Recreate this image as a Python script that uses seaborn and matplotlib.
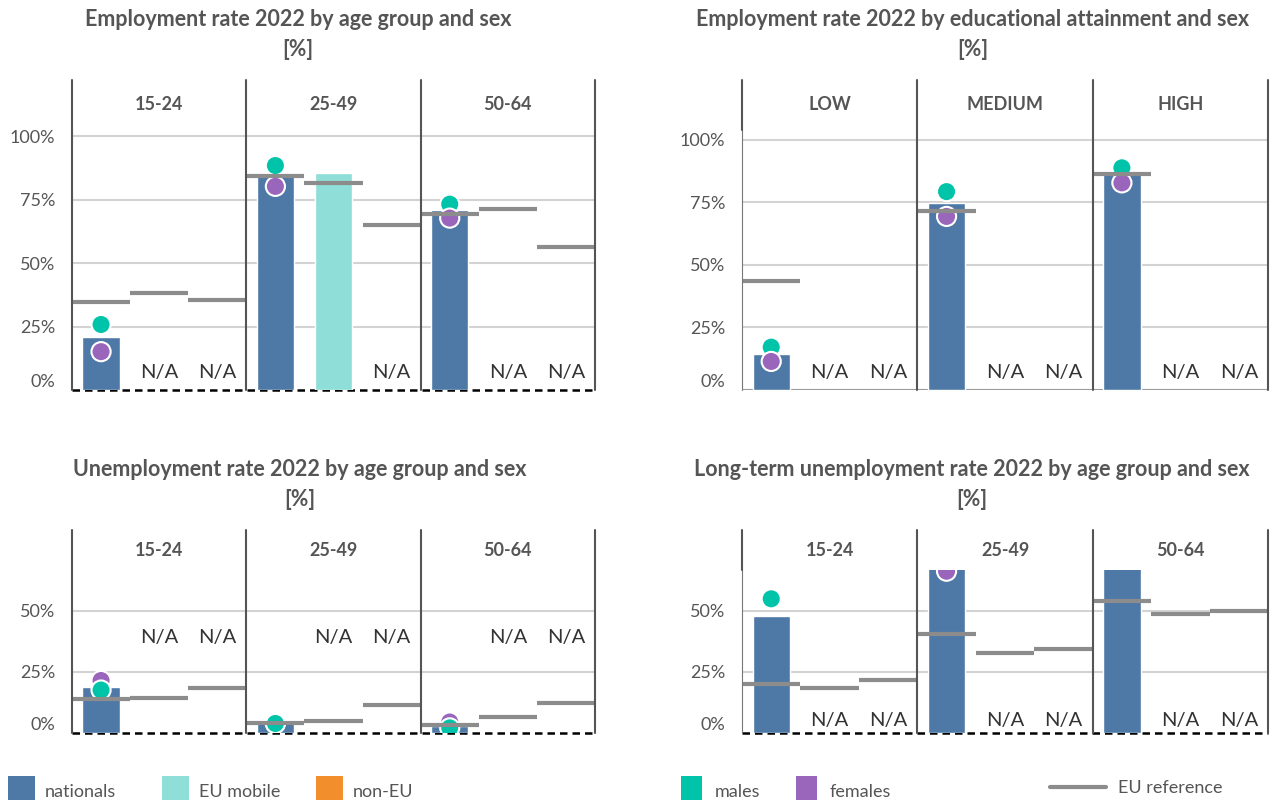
import numpy as np
import pandas as pd
import seaborn as sns
import matplotlib.pyplot as plt
from matplotlib.patches import Rectangle
from matplotlib.lines import Line2D

nan = np.nan

# categories
age_groups = ['15-24', '25-49', '50-64']
edu_groups = ['LOW', 'MEDIUM', 'HIGH']
origins = ['nationals', 'EU mobile', 'non-EU']
sexes = ['males', 'females']

# employment rate 2022 by age group [%]
emp_age_nationals = [20.9, 85.0, 71.0]
emp_age_eu_mobile = [nan, 85.4, nan]
emp_age_non_eu = [nan, nan, nan]
emp_age_males = [25.8, 88.4, 73.2]
emp_age_females = [15.1, 80.2, 67.7]
# EU reference, group by group: nationals, EU mobile, non-EU
emp_age_eu_ref = [34.5, 38.3, 35.3, 84.1, 81.7, 64.9, 69.5, 71.1, 56.4]

# employment rate 2022 by educational attainment [%]
emp_edu_nationals = [14.4, 74.7, 86.1]
emp_edu_eu_mobile = [nan, nan, nan]
emp_edu_non_eu = [nan, nan, nan]
emp_edu_males = [17.1, 79.2, 88.7]
emp_edu_females = [11.4, 69.3, 82.7]
emp_edu_eu_ref = [43.6, nan, nan, 71.3, nan, nan, 86.1, nan, nan]

# unemployment rate 2022 by age group [%]
unemp_nationals = [19.0, 4.8, 2.9]
unemp_eu_mobile = [nan, nan, nan]
unemp_non_eu = [nan, nan, nan]
unemp_males = [17.6, 3.9, 2.1]
unemp_females = [21.5, 4.0, 4.5]
unemp_eu_ref = [13.8, 14.5, 18.4, 4.1, 5.1, 11.4, 3.4, 6.6, 12.1]

# long-term unemployment rate 2022 by age group [%]
ltu_nationals = [47.9, 75.0, 75.0]
ltu_eu_mobile = [nan, nan, nan]
ltu_non_eu = [nan, nan, nan]
ltu_males = [55.0, nan, nan]
ltu_females = [nan, 66.3, nan]
ltu_eu_ref = [20.1, 18.4, 21.6, 40.6, 32.7, 34.3, 54.1, 48.6, 50.1]

origin_colors = {'nationals': '#4e79a7', 'EU mobile': '#8fded7', 'non-EU': '#f28e2b'}
sex_colors = {'males': '#00c4aa', 'females': '#9966bb'}
ref_color = '#8c8c8c'
txt = '#555555'

sns.set_style('white')
plt.rcParams['font.family'] = ['Lato', 'DejaVu Sans']

W, H = 1271, 800
fig = plt.figure(figsize=(W / 100, H / 100), dpi=100)


def rect(x0, y0, x1, y1):
    return [x0 / W, 1 - y1 / H, (x1 - x0) / W, (y1 - y0) / H]


def draw_panel(groups, nationals, eu_mobile, non_eu, males, females, eu_ref,
               box, ymax, ticks, na_y, thin_left, solid_base):
    x0, head_top, plot_top, x1, base = box
    slots = [f'{g}|{o}' for g in groups for o in origins]

    bars = pd.DataFrame({
        'slot': slots,
        'origin': origins * len(groups),
        'value': [v for trio in zip(nationals, eu_mobile, non_eu) for v in trio],
    })
    # lower value drawn last, so it sits on top
    dots = pd.DataFrame({
        'pos': [3 * i for i in range(len(groups))] * 2,
        'sex': ['males'] * len(groups) + ['females'] * len(groups),
        'value': list(males) + list(females),
    }).dropna().sort_values('value', ascending=False)

    ax = fig.add_axes(rect(x0, plot_top, x1, base))
    sns.barplot(data=bars.dropna(), x='slot', y='value', hue='origin',
                order=slots, hue_order=origins, palette=origin_colors,
                dodge=False, width=0.64, saturation=1, errorbar=None,
                legend=False, ax=ax, zorder=2)
    sns.scatterplot(data=dots, x='pos', y='value', hue='sex', hue_order=sexes,
                    palette=sex_colors, s=190, edgecolor='white', linewidth=1.5,
                    legend=False, ax=ax, zorder=3)

    pos = np.arange(len(slots))
    ref = np.array(eu_ref, dtype=float)
    ok = ~np.isnan(ref)
    ax.hlines(ref[ok], pos[ok] - 0.5, pos[ok] + 0.5, colors=ref_color, lw=3, zorder=4)

    for p, v in zip(pos, bars['value']):
        if np.isnan(v):
            ax.text(p, na_y, 'N/A', ha='center', va='center', fontsize=14.5, color='#333333')

    for t in ticks[1:]:
        ax.axhline(t, color='#d3d3d3', lw=1.5, zorder=0)
    if solid_base:
        ax.axhline(0, color='#9a9a9a', lw=1.5, zorder=1)
    else:
        ax.axhline(0, color='black', lw=1.8, ls=(0, (3, 2)), zorder=1, clip_on=False)

    for e in [2.5, 5.5, 8.5]:
        ax.axvline(e, color=txt, lw=1.5, clip_on=False, zorder=5)
    if thin_left:
        ax.axvline(-0.5, color='#777777', lw=0.8, clip_on=False, zorder=5)
    else:
        ax.axvline(-0.5, color=txt, lw=1.5, clip_on=False, zorder=5)

    ax.set_xlim(-0.5, 8.5)
    ax.set_ylim(0, ymax)
    ax.set_xticks([])
    ax.set_yticks(ticks)
    ax.set_yticklabels([f'{t}%' for t in ticks])
    ax.get_yticklabels()[0].set_va('bottom')
    ax.tick_params(axis='y', length=0, pad=12, labelsize=13, labelcolor=txt)
    ax.set_xlabel('')
    ax.set_ylabel('')
    for s in ax.spines.values():
        s.set_visible(False)

    hx = fig.add_axes(rect(x0, head_top, x1, plot_top))
    hx.set_xlim(-0.5, 8.5)
    hx.set_ylim(0, 1)
    hx.axis('off')
    for e in [-0.5, 2.5, 5.5, 8.5]:
        hx.axvline(e, color=txt, lw=1.5, clip_on=False)
    for i, g in enumerate(groups):
        hx.text(3 * i + 1, 0.5, g, ha='center', va='center', fontsize=13,
                fontweight='bold', color=txt)


draw_panel(age_groups, emp_age_nationals, emp_age_eu_mobile, emp_age_non_eu,
           emp_age_males, emp_age_females, emp_age_eu_ref,
           (72, 80, 130, 595, 390), 102.4, [0, 25, 50, 75, 100], 6.7, False, False)
draw_panel(edu_groups, emp_edu_nationals, emp_edu_eu_mobile, emp_edu_non_eu,
           emp_edu_males, emp_edu_females, emp_edu_eu_ref,
           (742, 80, 130, 1268, 390), 103.8, [0, 25, 50, 75, 100], 6.8, True, True)
draw_panel(age_groups, unemp_nationals, unemp_eu_mobile, unemp_non_eu,
           unemp_males, unemp_females, unemp_eu_ref,
           (72, 530, 570, 595, 733), 66.8, [0, 25, 50], 39, False, False)
draw_panel(age_groups, ltu_nationals, ltu_eu_mobile, ltu_non_eu,
           ltu_males, ltu_females, ltu_eu_ref,
           (742, 530, 570, 1268, 733), 66.8, [0, 25, 50], 5.3, True, False)

# titles
titles = [
    (298, 20, 'Employment rate 2022 by age group and sex'),
    (973, 20, 'Employment rate 2022 by educational attainment and sex'),
    (300, 470, 'Unemployment rate 2022 by age group and sex'),
    (972, 470, 'Long-term unemployment rate 2022 by age group and sex'),
]
for x, y, t in titles:
    fig.text(x / W, 1 - y / H, t, ha='center', va='center', fontsize=15.5,
             fontweight='bold', color=txt)
    fig.text(x / W, 1 - (y + 30) / H, '[%]', ha='center', va='center', fontsize=15.5,
             fontweight='bold', color=txt)

# legend
legend_boxes = [
    (8, 35, 45, 'nationals', origin_colors['nationals']),
    (162, 189, 199, 'EU mobile', origin_colors['EU mobile']),
    (316, 343, 353, 'non-EU', origin_colors['non-EU']),
    (681, 702, 715, 'males', sex_colors['males']),
    (796, 817, 830, 'females', sex_colors['females']),
]
for a, b, tx, label, c in legend_boxes:
    fig.add_artist(Rectangle((a / W, 0), (b - a) / W, 24 / H, transform=fig.transFigure,
                             color=c, lw=0))
    fig.text(tx / W, 1 - 792 / H, label, ha='left', va='center', fontsize=13, color=txt)
fig.add_artist(Line2D([1050 / W, 1106 / W], [1 - 787 / H] * 2, transform=fig.transFigure,
                      color=ref_color, lw=3))
fig.text(1118 / W, 1 - 788 / H, 'EU reference', ha='left', va='center', fontsize=13, color=txt)

fig.savefig('out.png', dpi=100)
